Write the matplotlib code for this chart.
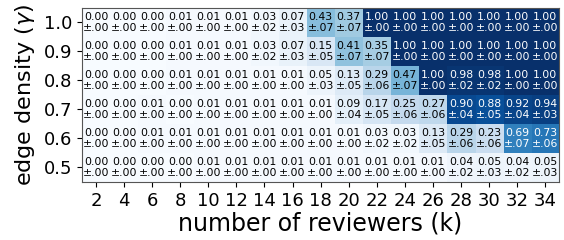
import numpy as np
import matplotlib.pyplot as plt

k_values = [2, 4, 6, 8, 10, 12, 14, 16, 18, 20, 22, 24, 26, 28, 30, 32, 34]
gamma_values = [0.5, 0.6, 0.7, 0.8, 0.9, 1.0]

# mean per row, gamma 0.5 -> 1.0
means = [
    [0.00, 0.00, 0.00, 0.00, 0.01, 0.01, 0.01, 0.01, 0.01, 0.01, 0.01, 0.01, 0.01, 0.04, 0.05, 0.04, 0.05],
    [0.00, 0.00, 0.01, 0.01, 0.01, 0.01, 0.01, 0.01, 0.01, 0.01, 0.03, 0.03, 0.13, 0.29, 0.23, 0.69, 0.73],
    [0.00, 0.00, 0.01, 0.00, 0.01, 0.01, 0.01, 0.01, 0.01, 0.09, 0.17, 0.25, 0.27, 0.90, 0.88, 0.92, 0.94],
    [0.00, 0.00, 0.00, 0.01, 0.01, 0.01, 0.01, 0.01, 0.05, 0.13, 0.29, 0.47, 1.00, 0.98, 0.98, 1.00, 1.00],
    [0.00, 0.00, 0.00, 0.01, 0.01, 0.01, 0.03, 0.07, 0.15, 0.41, 0.35, 1.00, 1.00, 1.00, 1.00, 1.00, 1.00],
    [0.00, 0.00, 0.00, 0.01, 0.01, 0.01, 0.03, 0.07, 0.43, 0.37, 1.00, 1.00, 1.00, 1.00, 1.00, 1.00, 1.00],
]
stds = [
    [0.00, 0.00, 0.00, 0.00, 0.00, 0.00, 0.00, 0.00, 0.00, 0.00, 0.00, 0.00, 0.00, 0.02, 0.03, 0.02, 0.03],
    [0.00, 0.00, 0.00, 0.00, 0.00, 0.00, 0.00, 0.00, 0.00, 0.00, 0.02, 0.02, 0.05, 0.06, 0.06, 0.07, 0.06],
    [0.00, 0.00, 0.00, 0.00, 0.00, 0.00, 0.00, 0.00, 0.00, 0.04, 0.05, 0.06, 0.06, 0.04, 0.05, 0.04, 0.03],
    [0.00, 0.00, 0.00, 0.00, 0.00, 0.00, 0.00, 0.00, 0.03, 0.05, 0.06, 0.07, 0.00, 0.02, 0.02, 0.00, 0.00],
    [0.00, 0.00, 0.00, 0.00, 0.00, 0.00, 0.02, 0.03, 0.05, 0.07, 0.07, 0.00, 0.00, 0.00, 0.00, 0.00, 0.00],
    [0.00, 0.00, 0.00, 0.00, 0.00, 0.00, 0.02, 0.03, 0.07, 0.07, 0.00, 0.00, 0.00, 0.00, 0.00, 0.00, 0.00],
]

m = np.array(means)
s = np.array(stds)

fig = plt.figure(figsize=(5.64, 2.4), dpi=100)
ax = fig.add_axes([0.1454, 0.242, 0.846, 0.725])
ax.imshow(m, cmap='Blues', vmin=0, vmax=1, aspect='auto', origin='lower')

for i in range(len(gamma_values)):
    for j in range(len(k_values)):
        color = 'white' if m[i, j] > 0.6 else 'black'
        txt = '%.2f\n±%s' % (m[i, j], ('%.2f' % s[i, j])[1:])
        ax.text(j, i, txt, ha='center', va='center', fontsize=7.8,
                color=color, linespacing=1.1)

ax.set_xticks(range(len(k_values)))
ax.set_xticklabels(k_values, fontsize=13)
ax.set_yticks(range(len(gamma_values)))
ax.set_yticklabels(gamma_values, fontsize=13)
ax.set_xlabel('number of reviewers (k)', fontsize=17, labelpad=1)
ax.set_ylabel('edge density ($\\gamma$)', fontsize=16, labelpad=5)
for sp in ax.spines.values():
    sp.set_color('#555555')

fig.savefig('out.png', dpi=100)
